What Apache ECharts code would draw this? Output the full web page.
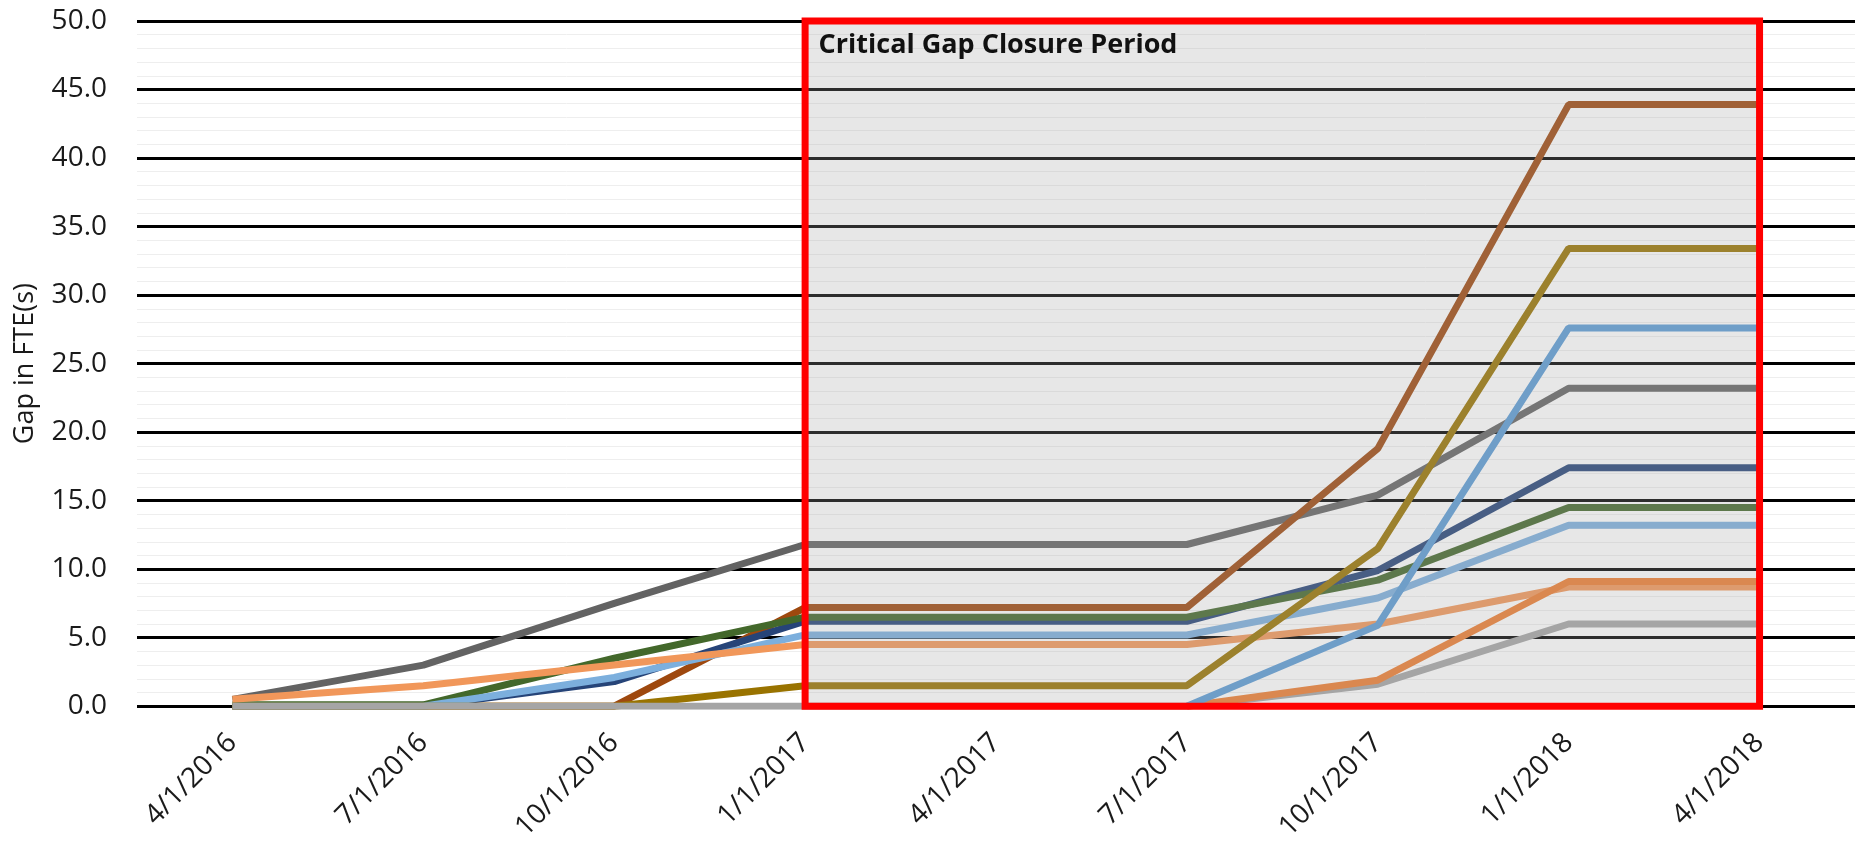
<!DOCTYPE html>
<html>
<head>
<meta charset="utf-8">
<title>Gap in FTE(s)</title>
<script src="https://cdn.jsdelivr.net/npm/echarts@6/dist/echarts.min.js"></script>
<style>
  html, body { margin: 0; padding: 0; background: #fff; }
  #chart { width: 1855px; height: 844px; }
</style>
</head>
<body>
<div id="chart"></div>
<script>
// quarters on the x axis
const quarters = ['4/1/2016', '7/1/2016', '10/1/2016', '1/1/2017', '4/1/2017', '7/1/2017', '10/1/2017', '1/1/2018', '4/1/2018'];

// gap values per series (FTE)
const darkGrayGap = [0.5, 3.0, 7.5, 11.8, 11.8, 11.8, 15.4, 23.2, 23.2];
const brownGap = [0, 0, 0, 7.2, 7.2, 7.2, 18.8, 43.9, 43.9];
const darkBlueGap = [0, 0, 1.8, 6.2, 6.2, 6.2, 9.9, 17.4, 17.4];
const greenGap = [0.1, 0.1, 3.5, 6.5, 6.5, 6.5, 9.2, 14.5, 14.5];
const lightBlueGap = [0, 0, 2.1, 5.2, 5.2, 5.2, 7.9, 13.2, 13.2];
const lightOrangeGap = [0.5, 1.5, 3.0, 4.5, 4.5, 4.5, 6.0, 8.7, 8.7];
const goldGap = [0, 0, 0, 1.5, 1.5, 1.5, 11.5, 33.4, 33.4];
const grayGap = [0, 0, 0, 0, 0, 0, 1.6, 6.0, 6.0];
const orangeGap = [null, null, null, null, null, 0, 1.9, 9.1, 9.1];
const blueGap = [null, null, null, null, null, 0, 5.9, 27.6, 27.6];

const yTicks = { min: 0, max: 50, interval: 5 };

const closureStart = '1/1/2017';
const closureEnd = '4/1/2018';
const closureLabel = 'Critical Gap Closure Period';

const font = '"Open Sans", "DejaVu Sans", sans-serif';

const lines = [
  { name: 'Series 1', data: darkGrayGap, color: '#636363' },
  { name: 'Series 2', data: brownGap, color: '#9E480E' },
  { name: 'Series 3', data: darkBlueGap, color: '#264478' },
  { name: 'Series 4', data: greenGap, color: '#43682B' },
  { name: 'Series 5', data: lightBlueGap, color: '#7CAFDD' },
  { name: 'Series 6', data: lightOrangeGap, color: '#F1975A' },
  { name: 'Series 7', data: goldGap, color: '#997300' },
  { name: 'Series 8', data: grayGap, color: '#A5A5A5' },
  { name: 'Series 9', data: orangeGap, color: '#ED7D31' },
  { name: 'Series 10', data: blueGap, color: '#5B9BD5' },
];

const chart = echarts.init(document.getElementById('chart'));

const series = lines.map(s => ({
  name: s.name,
  type: 'line',
  data: s.data,
  symbol: 'none',
  lineStyle: { color: s.color, width: 7 },
  itemStyle: { color: s.color },
}));

// shaded period sits on top of the lines, like the original overlay
series.push({
  name: 'closure',
  type: 'line',
  data: [],
  z: 10,
  markArea: {
    silent: true,
    z: 10,
    itemStyle: {
      color: 'rgba(166,166,166,0.27)',
      borderColor: '#ff0000',
      borderWidth: 7,
    },
    label: {
      show: true,
      position: [17, 14],
      color: '#111',
      fontFamily: font,
      fontWeight: 'bold',
      fontSize: 27,
    },
    data: [[
      { name: closureLabel, xAxis: closureStart, yAxis: yTicks.min },
      { xAxis: closureEnd, yAxis: yTicks.max },
    ]],
  },
});

chart.setOption({
  animation: false,
  grid: { left: 137, right: -8, top: 21, bottom: 136 },
  xAxis: {
    type: 'category',
    data: quarters,
    boundaryGap: true,
    axisLine: { show: false },
    axisTick: { show: false },
    axisLabel: {
      rotate: 45,
      margin: 32,
      fontSize: 28,
      fontFamily: font,
      color: '#1a1a1a',
      interval: 0,
    },
  },
  yAxis: {
    type: 'value',
    min: yTicks.min,
    max: yTicks.max,
    interval: yTicks.interval,
    name: 'Gap in FTE(s)',
    nameLocation: 'middle',
    nameRotate: 90,
    nameGap: 98,
    nameTextStyle: { fontSize: 27, fontFamily: font, color: '#1a1a1a' },
    axisLine: { show: false },
    axisTick: { show: false },
    axisLabel: {
      margin: 30,
      fontSize: 28,
      fontFamily: font,
      color: '#1a1a1a',
      formatter: v => v.toFixed(1),
    },
    splitLine: { show: true, lineStyle: { color: '#000', width: 3 } },
    minorTick: { show: false, splitNumber: 5 },
    minorSplitLine: { show: true, lineStyle: { color: '#eeeeee', width: 1 } },
  },
  series: series,
});
</script>
</body>
</html>
